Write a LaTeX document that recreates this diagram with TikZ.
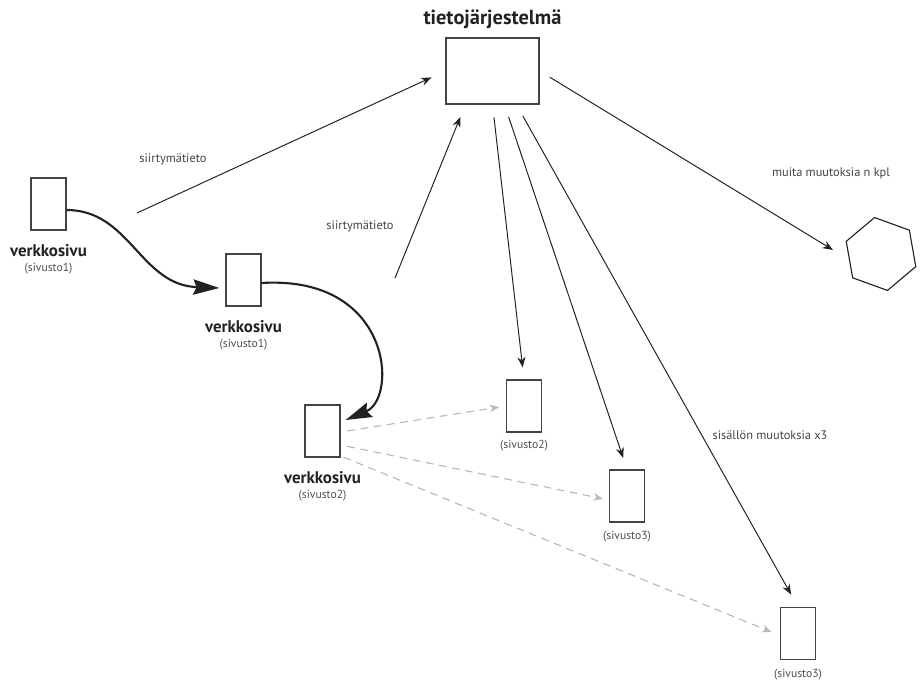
\documentclass[tikz,border=0pt]{standalone}
\usepackage{fontspec}
\setmainfont{PT Sans}
\usetikzlibrary{arrows.meta, positioning, calc, shapes.geometric}
\definecolor{ink}{HTML}{222222}
\definecolor{ghost}{HTML}{B8B8B8}

\begin{document}
\begin{tikzpicture}[x=0.025cm, y=-0.025cm,
      page/.style={draw=ink!85, line width=0.9pt, minimum width=0.875cm,
                   minimum height=1.3cm, inner sep=0pt},
      pagelabel/.style={font=\bfseries\fontsize{12}{14}\selectfont, text=ink, inner sep=0pt},
      sitelabel/.style={font=\fontsize{8.3}{9}\selectfont, text=ink!80, inner sep=0pt},
      notelabel/.style={font=\fontsize{8.8}{10}\selectfont, text=ink!85, inner sep=0pt},
      arr/.style={-{Stealth[length=2.6mm, width=2mm]}, ink, line width=0.7pt},
      jump/.style={-{Stealth[length=6.5mm, width=3.8mm, inset=0.8mm]}, ink, line width=1.5pt},
      ghostarr/.style={-{Stealth[length=2.4mm, width=1.9mm]}, ghost, line width=0.8pt,
                       dash pattern=on 5.5pt off 4pt}]
    \useasboundingbox (0,0) rectangle (920,682);

    % pages along the path
    \node[page] (p1) at (48.5,204) {};
    \node[pagelabel, below=9.5pt of p1]  (p1n) {verkkosivu};
    \node[sitelabel, below=4pt of p1n]   (p1s) {(sivusto1)};
    \node[page] (p2) at (243.5,280) {};
    \node[pagelabel, below=9.5pt of p2]  (p2n) {verkkosivu};
    \node[sitelabel, below=4pt of p2n]   (p2s) {(sivusto1)};
    \node[page] (p3) at (322.5,431) {};
    \node[pagelabel, below=9.5pt of p3]  (p3n) {verkkosivu};
    \node[sitelabel, below=4pt of p3n]   (p3s) {(sivusto2)};

    % information system
    \node[draw=ink!85, line width=0.9pt, minimum width=2.325cm, minimum height=1.65cm,
          inner sep=0pt] (tieto) at (492.5,71) {};
    \node[pagelabel, font=\bfseries\fontsize{14.5}{17}\selectfont, above=6pt of tieto] (title) {tietojärjestelmä};

    % changed pages
    \node[page] (s2)  at (524,406)   {};
    \node[sitelabel, below=5pt of s2]  (s2n)  {(sivusto2)};
    \node[page] (s3a) at (627,496)   {};
    \node[sitelabel, below=6pt of s3a] (s3an) {(sivusto3)};
    \node[page] (s3b) at (798,633.5) {};
    \node[sitelabel, below=6pt of s3b] (s3bn) {(sivusto3)};
    \node[draw=ink, line width=0.8pt, regular polygon, regular polygon sides=6,
          shape border rotate=40, minimum size=1.85cm, inner sep=0pt] (hex) at (881,254) {};

    % labels
    \node[notelabel] (lab1) at (173,159) {siirtymätieto};
    \node[notelabel] (lab2) at (360,226) {siirtymätieto};
    \node[notelabel] (lab3) at (831,173) {muita muutoksia n kpl};
    \node[notelabel] (lab4) at (770,435) {sisällön muutoksia x3};

    \coordinate (from1) at (137,213);
    \coordinate (from2) at (395,278);

    % navigation
    \draw[jump] ($(p1.east)+(0,6)$) .. controls (130,210) and (140,285) .. ($(p2.west)+(-6,8)$);
    \draw[jump] ($(p2.east)+(0,3)$) .. controls (392,275) and (398,398) .. ($(p3.east)+(5,-11)$);

    % transition data
    \draw[arr, shorten >=0.38cm] (from1) -- (tieto.west);
    \draw[arr, shorten >=0.33cm] (from2) -- ($(tieto.south west)+(20,0)$);

    % changes
    \draw[arr, shorten <=0.3cm] (tieto.east) -- (833,250);
    \draw[arr, shorten <=0.32cm, shorten >=0.3cm] (tieto.south) -- (s2.north);
    \draw[arr, shorten <=0.32cm, shorten >=0.3cm] ($(tieto.south)+(12,0)$) -- (s3a.north);
    \draw[arr, shorten <=0.32cm, shorten >=0.35cm] ($(tieto.south)+(24,0)$) -- (s3b.north);

    % possible next pages
    \draw[ghostarr, shorten <=0.17cm, shorten >=0.17cm] ($(p3.east)+(0,1)$) -- (s2.west);
    \draw[ghostarr, shorten <=0.17cm, shorten >=0.15cm] ($(p3.east)+(0,14)$) -- ($(s3a.west)+(0,4)$);
    \draw[ghostarr, shorten <=0.08cm, shorten >=0.22cm] ($(p3.east)+(0,25)$) -- ($(s3b.west)+(0,2)$);
  \end{tikzpicture}
\end{document}
